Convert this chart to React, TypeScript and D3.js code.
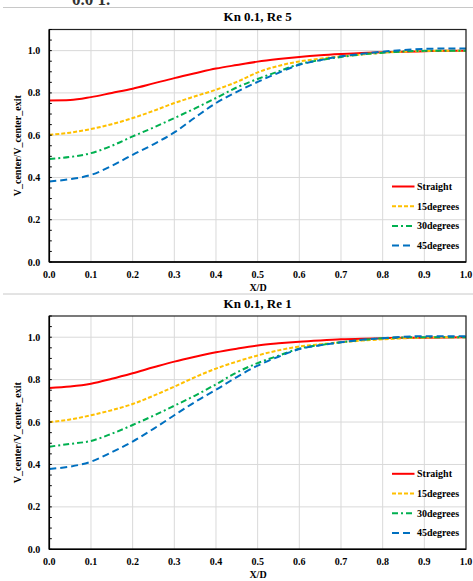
import React from 'react'
import * as d3 from 'd3'

// X/D positions shared by every curve
const xs = [0, 0.05, 0.1, 0.15, 0.2, 0.25, 0.3, 0.35, 0.4, 0.45, 0.5, 0.55, 0.6, 0.65, 0.7, 0.75, 0.8, 0.85, 0.9, 0.95, 1.0]

// Kn 0.1, Re 5
const re5Straight = [0.764, 0.766, 0.78, 0.80, 0.82, 0.845, 0.87, 0.893, 0.915, 0.932, 0.948, 0.960, 0.970, 0.978, 0.984, 0.989, 0.992, 0.995, 0.997, 0.999, 1.0]
const re5Deg15 = [0.602, 0.612, 0.629, 0.652, 0.681, 0.715, 0.752, 0.784, 0.815, 0.852, 0.897, 0.928, 0.949, 0.962, 0.973, 0.982, 0.99, 0.995, 0.998, 1.0, 1.0]
const re5Deg30 = [0.487, 0.497, 0.515, 0.55, 0.594, 0.636, 0.681, 0.727, 0.776, 0.826, 0.866, 0.902, 0.936, 0.955, 0.97, 0.982, 0.99, 0.996, 0.999, 1.0, 1.0]
const re5Deg45 = [0.381, 0.392, 0.412, 0.455, 0.507, 0.557, 0.613, 0.684, 0.752, 0.805, 0.852, 0.895, 0.933, 0.955, 0.973, 0.985, 0.995, 1.003, 1.008, 1.01, 1.01]

// Kn 0.1, Re 1
const re1Straight = [0.761, 0.768, 0.781, 0.804, 0.83, 0.858, 0.885, 0.908, 0.929, 0.946, 0.961, 0.971, 0.979, 0.985, 0.99, 0.993, 0.995, 0.997, 0.998, 0.999, 1.0]
const re1Deg15 = [0.60, 0.612, 0.632, 0.656, 0.685, 0.724, 0.767, 0.812, 0.852, 0.885, 0.914, 0.938, 0.956, 0.967, 0.976, 0.984, 0.99, 0.995, 0.998, 1.0, 1.0]
const re1Deg30 = [0.484, 0.497, 0.511, 0.545, 0.586, 0.63, 0.677, 0.725, 0.778, 0.834, 0.878, 0.913, 0.946, 0.963, 0.976, 0.987, 0.995, 0.999, 1.0, 1.0, 1.0]
const re1Deg45 = [0.379, 0.39, 0.413, 0.458, 0.508, 0.568, 0.632, 0.695, 0.752, 0.812, 0.866, 0.908, 0.944, 0.962, 0.976, 0.988, 0.995, 1.002, 1.005, 1.005, 1.005]

const seriesNames = ['Straight', '15degrees', '30degrees', '45degrees']
const xTicks = [0, 0.1, 0.2, 0.3, 0.4, 0.5, 0.6, 0.7, 0.8, 0.9, 1.0]
const yTicks = [0, 0.2, 0.4, 0.6, 0.8, 1.0]
const yMinor = d3.range(0, 1.1001, 0.05)

const styles = [
  { color: '#ff0000', dash: null },
  { color: '#ffc000', dash: '4,2' },
  { color: '#00b050', dash: '6,3,2,3' },
  { color: '#0070c0', dash: '7,4' },
]

const font = '"Liberation Serif", "Times New Roman", serif'

function Panel({ top, bottom, title, series }: { top: number; bottom: number; title: string; series: number[][] }) {
  const left = 49.3
  const right = 466
  const x = d3.scaleLinear().domain([0, 1]).range([left, right])
  const y = d3.scaleLinear().domain([0, 1.1]).range([bottom, top])
  const line = d3.line<number>()
    .x((d, i) => x(xs[i]))
    .y(d => y(d))
    .curve(d3.curveMonotoneX)
  const fmt = d3.format('.1f')
  const legX = 392
  const legY = bottom - 75.5

  return (
    <g>
      <text x={(left + right) / 2} y={top - 8.5} textAnchor="middle" fontFamily={font} fontWeight="bold" fontSize={13}>{title}</text>
      {xTicks.map(t => (
        <line key={'gx' + t} x1={x(t)} x2={x(t)} y1={top} y2={bottom} stroke="#d9d9d9" strokeWidth={1} />
      ))}
      {yTicks.map(t => (
        <line key={'gy' + t} x1={left} x2={right} y1={y(t)} y2={y(t)} stroke="#d9d9d9" strokeWidth={1} />
      ))}
      {series.map((s, i) => (
        <path key={'s' + i} d={line(s) || ''} fill="none" stroke={styles[i].color} strokeWidth={2}
          strokeDasharray={styles[i].dash || undefined} />
      ))}
      <rect x={left} y={top} width={right - left} height={bottom - top} fill="none" stroke="#222" strokeWidth={1.2} />
      <line x1={left} x2={left} y1={top} y2={bottom} stroke="#000" strokeWidth={1.6} />
      <line x1={left} x2={right} y1={bottom} y2={bottom} stroke="#000" strokeWidth={1.6} />
      {yMinor.map(t => (
        <line key={'ym' + t} x1={left} x2={left + 2.5} y1={y(t)} y2={y(t)} stroke="#000" strokeWidth={1} />
      ))}
      {yTicks.map(t => (
        <text key={'yl' + t} x={left - 9} y={y(t) + 3.5} textAnchor="end" fontFamily={font} fontWeight="bold" fontSize={10}>{fmt(t)}</text>
      ))}
      {xTicks.map(t => (
        <text key={'xl' + t} x={x(t)} y={bottom + 15.5} textAnchor="middle" fontFamily={font} fontWeight="bold" fontSize={10}>{fmt(t)}</text>
      ))}
      <text x={258} y={bottom + 29} textAnchor="middle" fontFamily={font} fontWeight="bold" fontSize={10}>X/D</text>
      <text transform={`translate(21,${(top + bottom) / 2}) rotate(-90)`} textAnchor="middle" fontFamily={font} fontWeight="bold" fontSize={10}>V_center/V_center_exit</text>
      {seriesNames.map((n, i) => (
        <g key={'lg' + n} transform={`translate(0,${legY + i * 19.7})`}>
          <line x1={legX} x2={i === 3 ? legX + 18 : legX + 22.5} y1={0} y2={0} stroke={styles[i].color} strokeWidth={2}
            strokeDasharray={styles[i].dash || undefined} />
          <text x={legX + 25} y={3.5} fontFamily={font} fontWeight="bold" fontSize={10}>{n}</text>
        </g>
      ))}
    </g>
  )
}

export default function App() {
  return (
    <svg width={473} height={581} style={{ position: 'absolute', left: 0, top: 0, background: '#fff' }}>
      <rect width={473} height={581} fill="#fff" />
      <text x={72} y={5} fontFamily={font} fontSize={17} fontWeight="bold" fill="#333">0.0 1.</text>
      <line x1={3} x2={473} y1={7.5} y2={7.5} stroke="#c8c8c8" strokeWidth={1} />
      <Panel top={29.5} bottom={262} title="Kn 0.1, Re 5" series={[re5Straight, re5Deg15, re5Deg30, re5Deg45]} />
      <line x1={3} x2={473} y1={294} y2={294} stroke="#c8c8c8" strokeWidth={1} />
      <Panel top={316} bottom={549.3} title="Kn 0.1, Re 1" series={[re1Straight, re1Deg15, re1Deg30, re1Deg45]} />
    </svg>
  )
}
